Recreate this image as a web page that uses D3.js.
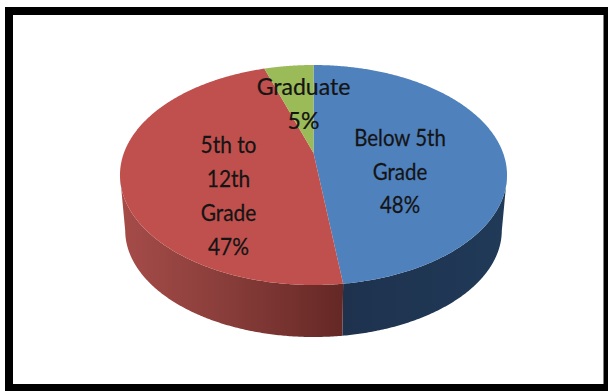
<!DOCTYPE html>
<html>
<head>
<meta charset="utf-8">
<script src="https://cdn.jsdelivr.net/npm/d3@7/dist/d3.min.js"></script>
<style>
html, body { margin: 0; padding: 0; background: #fff; }
svg { display: block; }
text { font-family: Lato, "Open Sans", sans-serif; fill: #141414; stroke: #141414; stroke-width: 0.25; text-anchor: middle; }
</style>
</head>
<body>
<svg id="chart" width="608" height="391"></svg>
<script>
// Education level shares, clockwise from twelve o'clock
const categories = ["Below 5th Grade", "5th to 12th Grade", "Graduate"];
const shares = [48, 47, 5];
const labelLines = [["Below 5th", "Grade", "48%"], ["5th to", "12th", "Grade", "47%"], ["Graduate", "5%"]];
const topColors = ["#4f81bd", "#c0504d", "#9bbb59"];

const W = 608, H = 391;
const svg = d3.select("#chart");

// Perspective projection of a unit disc: nearer edge is drawn larger
const tilt = 0.2;
const project = (angle, ring) => {
  const u = Math.sin(angle), v = -Math.cos(angle), w = 1 - tilt * v;
  return [ring.cx + ring.rx * u / w, ring.cy + ring.ry * v / w];
};
const topRing = { cx: 313.5, cy: 153, rx: 189.6, ry: 105.6 };
const baseRing = { cx: 313.5, cy: 209, rx: 184.5, ry: 102.4 };

const arcAngles = (a0, a1) => d3.range(0, 361).map(i => a0 + (a1 - a0) * i / 360);
const line = d3.line().curve(d3.curveLinear);

const pie = d3.pie().sort(null)(shares);

// Wall shading runs left to right across the visible rim
const defs = svg.append("defs");
const wallShades = [
  ["wall0", [["0%", "#1e324e"], ["100%", "#203a58"]]],
  ["wall1", [["0%", "#a64c49"], ["45%", "#8a3e3b"], ["100%", "#652825"]]]
];
const wallSpans = [[343, 507], [120, 343]];
wallShades.forEach(([id, stops], i) => {
  const g = defs.append("linearGradient").attr("id", id)
    .attr("gradientUnits", "userSpaceOnUse")
    .attr("x1", wallSpans[i][0]).attr("x2", wallSpans[i][1]).attr("y1", 0).attr("y2", 0);
  stops.forEach(([o, c]) => g.append("stop").attr("offset", o).attr("stop-color", c));
});

// Page frame
svg.append("rect").attr("x", 5).attr("y", 7).attr("width", W - 5).attr("height", H - 7).attr("fill", "#000");
svg.append("rect").attr("x", 13).attr("y", 15).attr("width", 590.5).attr("height", 369).attr("fill", "#fff");

// Side walls: only the part of the rim in front of the widest points is visible
pie.slice(0, 2).forEach((d, i) => {
  const angles = arcAngles(d.startAngle, d.endAngle).filter(a => -Math.cos(a) >= tilt);
  const outline = angles.map(a => project(a, topRing))
    .concat(angles.slice().reverse().map(a => project(a, baseRing)));
  svg.append("path").attr("d", line(outline) + "Z").attr("fill", `url(#wall${i})`);
});

// Top face
svg.selectAll("path.slice").data(pie).enter().append("path")
  .attr("class", "slice")
  .attr("fill", (d, i) => topColors[i])
  .attr("d", d => {
    const pts = arcAngles(d.startAngle, d.endAngle).map(a => project(a, topRing));
    return line([[topRing.cx, topRing.cy], ...pts]) + "Z";
  });

// Labels: one text per line, centred on each slice's anchor and condensed horizontally
const labelAnchors = [
  { x: 400, y: 146, step: 33.5, squeeze: 0.87 },
  { x: 228.5, y: 153, step: 34, squeeze: 0.89 },
  { x: 303.5, y: 95, step: 34, squeeze: 0.98 }
];
labelLines.forEach((lines, i) => {
  const a = labelAnchors[i];
  svg.selectAll(null).data(lines).enter().append("text")
    .attr("transform", (d, j) => `translate(${a.x},${a.y + j * a.step}) scale(${a.squeeze},1)`)
    .attr("font-size", 23.5)
    .text(d => d);
});
</script>
</body>
</html>
